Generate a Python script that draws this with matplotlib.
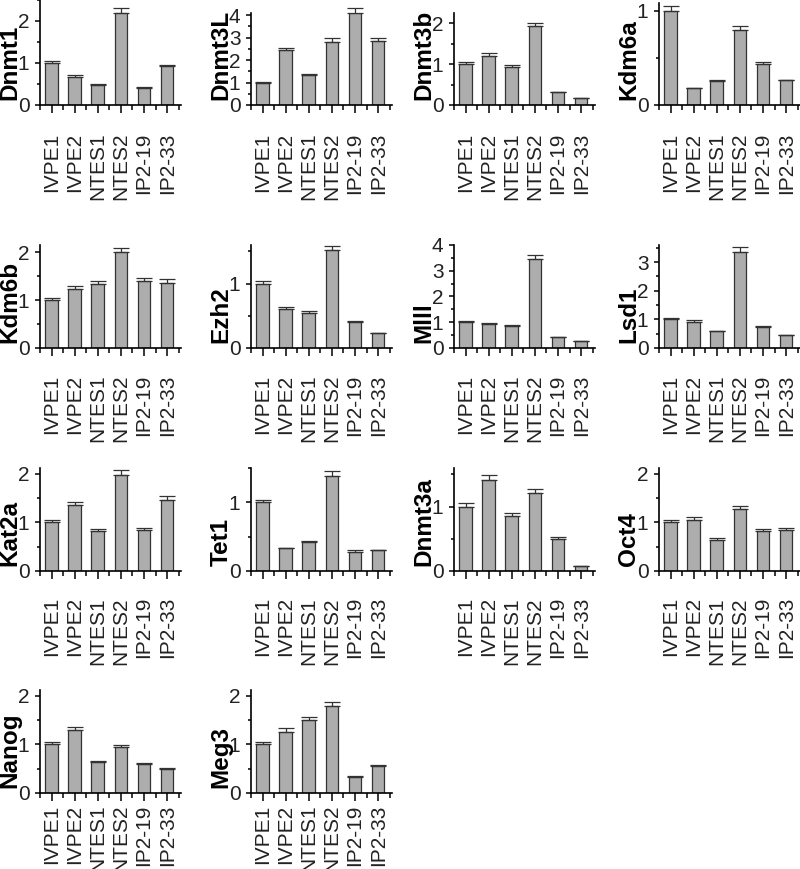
import numpy as np
import matplotlib
matplotlib.use('Agg')
import matplotlib.pyplot as plt
from matplotlib.ticker import MultipleLocator, FixedLocator

plt.rcParams['font.family'] = ['Liberation Sans', 'DejaVu Sans']

samples = ['IVPE1', 'IVPE2', 'NTES1', 'NTES2', 'IP2-19', 'IP2-33']

# relative expression (mean) and upper error
genes = ['Dnmt1', 'Dnmt3L', 'Dnmt3b', 'Kdm6a',
         'Kdm6b', 'Ezh2', 'Mlll', 'Lsd1',
         'Kat2a', 'Tet1', 'Dnmt3a', 'Oct4',
         'Nanog', 'Meg3']

dnmt1 = [1.0, 0.67, 0.48, 2.2, 0.4, 0.92]
dnmt1_err = [0.04, 0.04, 0.02, 0.1, 0.04, 0.04]
dnmt3l = [1.0, 2.43, 1.32, 2.82, 4.1, 2.84]
dnmt3l_err = [0.04, 0.12, 0.08, 0.15, 0.22, 0.15]
dnmt3b = [1.0, 1.21, 0.92, 1.92, 0.31, 0.17]
dnmt3b_err = [0.04, 0.06, 0.05, 0.09, 0.01, 0.01]
kdm6a = [1.0, 0.18, 0.25, 0.79, 0.43, 0.26]
kdm6a_err = [0.05, 0.005, 0.015, 0.045, 0.025, 0.01]
kdm6b = [1.0, 1.23, 1.34, 2.0, 1.4, 1.36]
kdm6b_err = [0.04, 0.06, 0.06, 0.09, 0.07, 0.07]
ezh2 = [1.0, 0.61, 0.55, 1.52, 0.4, 0.23]
ezh2_err = [0.04, 0.03, 0.03, 0.07, 0.025, 0.01]
mlll = [1.0, 0.92, 0.85, 3.44, 0.42, 0.26]
mlll_err = [0.04, 0.04, 0.03, 0.18, 0.02, 0.02]
lsd1 = [1.0, 0.92, 0.59, 3.37, 0.75, 0.46]
lsd1_err = [0.05, 0.05, 0.01, 0.15, 0.01, 0.01]
kat2a = [1.0, 1.35, 0.82, 1.98, 0.84, 1.46]
kat2a_err = [0.04, 0.06, 0.04, 0.09, 0.04, 0.08]
tet1 = [1.0, 0.33, 0.42, 1.39, 0.28, 0.3]
tet1_err = [0.04, 0.005, 0.015, 0.07, 0.02, 0.005]
dnmt3a = [1.0, 1.41, 0.86, 1.21, 0.5, 0.08]
dnmt3a_err = [0.05, 0.08, 0.04, 0.06, 0.03, 0.005]
oct4 = [1.0, 1.06, 0.64, 1.27, 0.83, 0.85]
oct4_err = [0.04, 0.05, 0.03, 0.06, 0.04, 0.04]
nanog = [1.0, 1.29, 0.63, 0.94, 0.59, 0.5]
nanog_err = [0.04, 0.06, 0.03, 0.04, 0.03, 0.01]
meg3 = [1.0, 1.26, 1.5, 1.79, 0.32, 0.56]
meg3_err = [0.04, 0.07, 0.06, 0.08, 0.03, 0.02]

values = [dnmt1, dnmt3l, dnmt3b, kdm6a, kdm6b, ezh2, mlll, lsd1,
          kat2a, tet1, dnmt3a, oct4, nanog, meg3]
errors = [dnmt1_err, dnmt3l_err, dnmt3b_err, kdm6a_err, kdm6b_err, ezh2_err,
          mlll_err, lsd1_err, kat2a_err, tet1_err, dnmt3a_err, oct4_err,
          nanog_err, meg3_err]
ymax = [2.5, 4.1, 2.25, 1.08, 2.15, 1.6, 4.0, 3.6,
        2.12, 1.5, 1.6, 2.12, 2.12, 2.12]

# layout in pixels (figure is 800 x 869)
W, H = 800, 869
col_left = [40, 251, 454, 659]
row_base = [105, 348, 571, 793]   # y of the x axis, from the top
row_top = [[0, 13, 13, 3], [245] * 4, [468] * 4, [690] * 4]
label_pad = [14, 13.5, 13, 2.5]   # points between tick end and rotated labels
ax_w = 141

fig = plt.figure(figsize=(W / 100, H / 100), dpi=100)

x = np.arange(len(samples))
for i, gene in enumerate(genes):
    r, c = divmod(i, 4)
    top = row_top[r][c]
    base = row_base[r]
    ax = fig.add_axes([col_left[c] / W, 1 - base / H, ax_w / W, (base - top) / H])

    v = np.array(values[i])
    e = np.array(errors[i])
    ax.bar(x, v, width=0.55, color='#adadad', edgecolor='#333333', linewidth=0.9, zorder=2)
    ax.errorbar(x, v, yerr=[np.zeros_like(e), e], fmt='none', ecolor='#333333',
                elinewidth=0.9, capsize=5.5, capthick=0.9, zorder=3, clip_on=False)

    ax.set_xlim(-0.5, 5.6)
    ax.set_ylim(0, ymax[i])
    for s in ['top', 'right']:
        ax.spines[s].set_visible(False)
    for s in ['left', 'bottom']:
        ax.spines[s].set_linewidth(1.2)

    ax.yaxis.set_major_locator(MultipleLocator(1))
    ax.yaxis.set_minor_locator(MultipleLocator(0.5))
    ax.set_xticks(x)
    ax.xaxis.set_minor_locator(FixedLocator(np.arange(-0.5, 6, 1.0)))
    ax.set_xticklabels(samples, rotation=90, fontsize=15, color='#222222')
    ax.tick_params(axis='x', which='major', length=5.8, width=1.1, pad=label_pad[r])
    ax.tick_params(axis='x', which='minor', length=3.6, width=1.1)
    ax.tick_params(axis='y', which='major', length=3.6, width=1.1, pad=4,
                   labelsize=15, labelcolor='#222222')
    ax.tick_params(axis='y', which='minor', length=2.2, width=1.1)

    ax.annotate(gene, xy=(0, 0), xycoords='axes fraction', xytext=(-30, 5),
                textcoords='offset pixels', rotation=90, ha='center', va='bottom',
                fontsize=17.5, fontweight='bold')

fig.savefig('out.png', dpi=100)
